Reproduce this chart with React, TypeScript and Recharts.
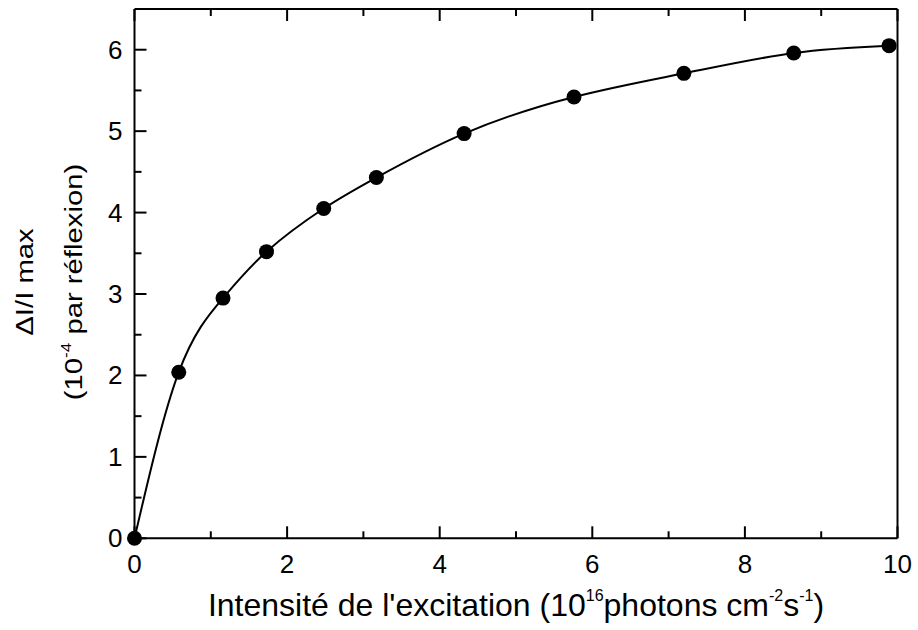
import React from "react";
import { ComposedChart, Line, XAxis, YAxis } from "recharts";

// excitation intensity (10^16 photons cm^-2 s^-1)
const intensity = [0, 0.58, 1.16, 1.73, 2.48, 3.17, 4.32, 5.76, 7.2, 8.64, 9.89];
// max dI/I (10^-4 per reflection)
const deltaMax = [0, 2.04, 2.95, 3.52, 4.05, 4.43, 4.97, 5.42, 5.71, 5.96, 6.05];

const xTicks = [0, 1, 2, 3, 4, 5, 6, 7, 8, 9, 10];
const yTicks = [0, 0.5, 1, 1.5, 2, 2.5, 3, 3.5, 4, 4.5, 5, 5.5, 6];

const data = intensity.map((x, i) => ({ x, y: deltaMax[i] }));

const W = 918;
const H = 630;
const MARGIN = { top: 8, right: 10.5, bottom: 51.7, left: 74.5 };
const X_AXIS_H = 40;
const TOP_AXIS_H = 1;
const Y_AXIS_W = 60;
const RIGHT_AXIS_W = 10;

// frame of the plot area, derived from the margins and axis sizes
const FRAME = {
  left: MARGIN.left + Y_AXIS_W,
  right: W - MARGIN.right - RIGHT_AXIS_W,
  top: MARGIN.top + TOP_AXIS_H,
  bottom: H - MARGIN.bottom - X_AXIS_H,
};

const FONT = "'Liberation Sans', Arial, sans-serif";
const MAJOR = 12;
const MINOR = 7;

const BottomTick = (props: any) => {
  const { x, payload } = props;
  const major = payload.value % 2 === 0;
  const y = FRAME.bottom;
  return (
    <g>
      <line x1={x} x2={x} y1={y} y2={y - (major ? MAJOR : MINOR)} stroke="#000" strokeWidth={2} />
      {major && (
        <text x={x} y={y + 35} textAnchor="middle" fontSize={26} fontFamily={FONT} fill="#000">
          {payload.value}
        </text>
      )}
    </g>
  );
};

const TopTick = (props: any) => {
  const { x, payload } = props;
  const major = payload.value % 2 === 0;
  const y = FRAME.top;
  return <line x1={x} x2={x} y1={y} y2={y + (major ? MAJOR : MINOR)} stroke="#000" strokeWidth={2} />;
};

const LeftTick = (props: any) => {
  const { y, payload } = props;
  const major = Number.isInteger(payload.value);
  const x = FRAME.left;
  return (
    <g>
      <line x1={x} x2={x + (major ? MAJOR : MINOR)} y1={y} y2={y} stroke="#000" strokeWidth={2} />
      {major && (
        <text x={x - 12} y={y + 9} textAnchor="end" fontSize={26} fontFamily={FONT} fill="#000">
          {payload.value}
        </text>
      )}
    </g>
  );
};

const RightTick = (props: any) => {
  const { y, payload } = props;
  const major = Number.isInteger(payload.value);
  const x = FRAME.right;
  return <line x1={x} x2={x - (major ? MAJOR : MINOR)} y1={y} y2={y} stroke="#000" strokeWidth={2} />;
};

const axisLine = { stroke: "#000", strokeWidth: 2 };

export default function App() {
  return (
    <div style={{ position: "absolute", left: 0, top: 0, width: W, height: H, background: "#fff" }}>
      <ComposedChart width={W} height={H} data={data} margin={MARGIN}>
        <XAxis
          dataKey="x"
          type="number"
          domain={[0, 10]}
          ticks={xTicks}
          interval={0}
          height={X_AXIS_H}
          tickLine={false}
          axisLine={axisLine}
          tick={<BottomTick />}
        />
        <XAxis
          xAxisId="top"
          orientation="top"
          dataKey="x"
          type="number"
          domain={[0, 10]}
          ticks={xTicks}
          interval={0}
          height={TOP_AXIS_H}
          tickLine={false}
          axisLine={axisLine}
          tick={<TopTick />}
        />
        <YAxis
          type="number"
          domain={[0, 6.5]}
          ticks={yTicks}
          interval={0}
          width={Y_AXIS_W}
          tickLine={false}
          axisLine={axisLine}
          tick={<LeftTick />}
        />
        <YAxis
          yAxisId="right"
          orientation="right"
          type="number"
          domain={[0, 6.5]}
          ticks={yTicks}
          interval={0}
          width={RIGHT_AXIS_W}
          tickLine={false}
          axisLine={axisLine}
          tick={<RightTick />}
        />
        <Line
          type="natural"
          dataKey="y"
          stroke="#000"
          strokeWidth={2}
          dot={{ r: 7.5, fill: "#000", stroke: "none" }}
          activeDot={false}
          isAnimationActive={false}
        />
      </ComposedChart>
      <svg
        width={W}
        height={H}
        style={{ position: "absolute", left: 0, top: 0, pointerEvents: "none" }}
        fontFamily={FONT}
        fill="#000"
      >
        <text x={516} y={616} textAnchor="middle" fontSize={32}>
          Intensité de l'excitation (10
          <tspan dy={-15} fontSize={16}>16</tspan>
          <tspan dy={15}>photons cm</tspan>
          <tspan dy={-15} fontSize={16}>-2</tspan>
          <tspan dy={15}>s</tspan>
          <tspan dy={-15} fontSize={16}>-1</tspan>
          <tspan dy={15}>)</tspan>
        </text>
        <text transform="translate(33,282) rotate(-90) scale(1.22,1)" textAnchor="middle" fontSize={24}>
          ΔI/I max
        </text>
        <text transform="translate(82,282) rotate(-90) scale(1.22,1)" textAnchor="middle" fontSize={24}>
          (10
          <tspan dy={-11} fontSize={14}>-4</tspan>
          <tspan dy={11}> par réflexion)</tspan>
        </text>
      </svg>
    </div>
  );
}
